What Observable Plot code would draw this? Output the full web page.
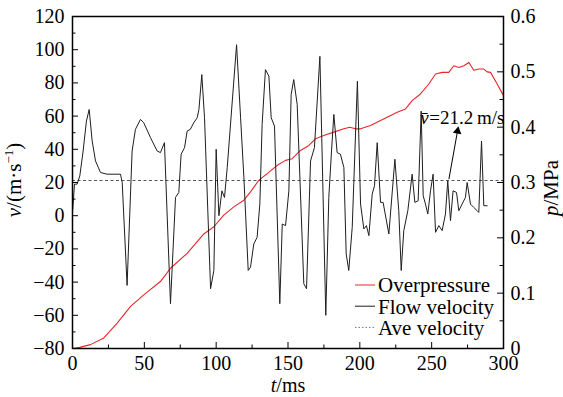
<!DOCTYPE html>
<html><head><meta charset="utf-8">
<script src="https://cdn.jsdelivr.net/npm/d3@7"></script>
<script src="https://cdn.jsdelivr.net/npm/@observablehq/plot@0.6"></script>
<style>
html,body{margin:0;padding:0;background:#fff;}
#chart{position:relative;width:563px;height:397px;overflow:hidden;}
#chart svg text{font-family:'Liberation Serif','Times New Roman',serif;}
</style></head><body><div id="chart"></div>
<script>
const timeMs = [0,1.4,3.2,5.1,7.4,9.7,11.6,13.7,16,19.5,
  24,28.8,33.4,34.6,38,41.5,43.8,47.3,49.6,54.3,
  58.9,61.2,64,68.2,71.7,74,75.6,78,79.8,82,
  84.4,86.8,88,90,91.9,96.1,98.4,100,101.9,104,
  105.8,107.7,114.2,117,119.3,122.3,123.9,126.2,128.5,130.4,
  132,134.3,136.7,138.3,140.6,144.3,146,148.3,150.6,152.2,
  154,156.4,161,162.9,165.7,168.4,172.2,176.3,178.4,180.3,
  181.9,184.2,186.5,188.9,190.5,192.3,194.7,198.3,200.5,202.8,
  204.6,206.3,208.6,210.2,212.1,214.4,216.2,220.2,224.4,227.1,
  228.8,230.6,233.4,236.4,238.3,240.6,242.7,244.1,245.7,247.3,
  249.2,251,252.7,255,257.3,259.6,261.2,263.1,264.9,267.3,
  268.9,271.2,273.5,274.7,277,279.3,281.7,282.8,284.7,286.3,
  288.6];
const flowVelocity = [2,19,19,24,39,57,64,45,33,26,
  25,25,25,20,-42,39,52,58,56,47,
  39,38,44,-53,11,14,37,41,51,52,
  56,59,64,85,59,-44,-33,40,0,15,
  11,29,103,59,23,-33,-31,-17,-13,7,
  55,88,84,59,54,-53,-5,-6,15,73,
  82,67,-41,-44,33,41,96,-60,11,39,
  61,38,37,29,-23,-33,-7,81,7,-8,
  -6,-12,13,18,44,8,8,-11,34,3,
  -33,-9,3,25,8,9,63,12,7,1,
  15,25,-10,-6,-9,1,21,-3,15,14,
  3,7,11,20,7,5,3,2,45,6,
  6];
const pressureTimeMs = [0,5,12.5,21.8,31.1,40.4,49.6,61.2,68.2,79.8,
  91.4,98.4,105.3,112.3,119.3,123.9,129.7,135.5,142.5,148.3,
  152.9,158.7,164.5,169.1,174.9,181.9,188.9,193,197,200.5,
  207.4,212,219,226,231.8,236.4,242.2,248,252.7,257.3,
  261.9,265.4,268.9,272.4,275.9,279.3,282.8,286.3,288.6,291,
  295.6,300];
const overpressureMPa = [0,0.002,0.007,0.019,0.046,0.076,0.097,0.121,0.145,0.172,
  0.207,0.220,0.241,0.256,0.268,0.283,0.304,0.316,0.331,0.340,
  0.343,0.358,0.367,0.379,0.385,0.391,0.397,0.400,0.397,0.397,
  0.403,0.409,0.418,0.427,0.433,0.448,0.460,0.478,0.496,0.499,
  0.499,0.511,0.508,0.511,0.517,0.503,0.505,0.505,0.500,0.499,
  0.478,0.457];
const aveVelocity = 21.2;
const velocityTicks = [-80,-60,-40,-20,0,20,40,60,80,100,120];
const velocityMinorTicks = [-70,-50,-30,-10,10,30,50,70,90,110];
const pressureTicks = [0,0.1,0.2,0.3,0.4,0.5,0.6];
const pressureTickLabels = ["0","0.1","0.2","0.3","0.4","0.5","0.6"];
const pressureMinorTicks = [0.05,0.15,0.25,0.35,0.45,0.55];
const timeTicks = [0,50,100,150,200,250,300];
const timeMinorTicks = [25,75,125,175,225,275];
const legendLabels = ["Overpressure","Flow velocity","Ave velocity"];
const annotationLabel = "=21.2\u2009m/s";
const annotationAt = {t: 242, v: 59};
const arrowFrom = {t: 262, v: 22};
const arrowTo = {t: 268, v: 51};

const vMin = -80, vMax = 120, pMax = 0.6;
const pToV = p => vMin + p / pMax * (vMax - vMin);

const flow = timeMs.map((t, i) => ({t, v: flowVelocity[i]}));
const pressure = pressureTimeMs.map((t, i) => ({t, v: pToV(overpressureMPa[i])}));
const pTickRows = pressureTicks.map((p, i) => ({v: pToV(p), label: pressureTickLabels[i]}));

const font = "'Liberation Serif','Times New Roman',serif";
const W = 563, H = 397, mL = 72, mR = 60, mT = 16, mB = 49;
const fw = W - mL - mR, fh = H - mT - mB;
const red = "#e8262b", ink = "#1e1e1e";

const plot = Plot.plot({
  width: W, height: H,
  marginLeft: mL, marginRight: mR, marginTop: mT, marginBottom: mB,
  style: {fontFamily: font, fontSize: "20px", background: "#fff", color: "#000", overflow: "visible"},
  x: {domain: [0, 300]},
  y: {domain: [vMin, vMax]},
  marks: [
    Plot.ruleY([aveVelocity], {stroke: "#555", strokeWidth: 1, strokeDasharray: "3,2.5"}),
    Plot.line(pressure, {x: "t", y: "v", stroke: red, strokeWidth: 1.1}),
    Plot.line(flow, {x: "t", y: "v", stroke: ink, strokeWidth: 1}),
    Plot.link([{}], {x1: () => arrowFrom.t, y1: () => arrowFrom.v, x2: () => arrowTo.t, y2: () => arrowTo.v, stroke: "#000", strokeWidth: 1}),
    Plot.dot([{}], {x: () => arrowTo.t, y: () => arrowTo.v, symbol: "triangle", r: 3.2, fill: "#000", stroke: null, rotate: 10}),
    Plot.text([annotationAt], {x: "t", y: "v", text: () => "v\u0304", fontStyle: "italic", textAnchor: "start", fontSize: 19, fontFamily: font}),
    Plot.text([annotationAt], {x: "t", y: "v", text: () => annotationLabel, dx: 9, textAnchor: "start", fontSize: 19, fontFamily: font}),
    // inward ticks
    Plot.tickY(velocityTicks, {y: d => d, insetRight: fw - 6, stroke: "#000"}),
    Plot.tickY(velocityMinorTicks, {y: d => d, insetRight: fw - 3.5, stroke: "#000"}),
    Plot.tickY(pressureTicks, {y: d => pToV(d), insetLeft: fw - 6, stroke: "#000"}),
    Plot.tickY(pressureMinorTicks, {y: d => pToV(d), insetLeft: fw - 3.5, stroke: "#000"}),
    Plot.tickX(timeTicks, {x: d => d, insetTop: fh - 6, stroke: "#000"}),
    Plot.tickX(timeMinorTicks, {x: d => d, insetTop: fh - 3.5, stroke: "#000"}),
    Plot.frame({stroke: "#000", strokeWidth: 1.5}),
    Plot.axisY(velocityTicks, {anchor: "left", tickSize: 0, tickPadding: 8, label: null, fontFamily: font}),
    Plot.axisY(pTickRows.map(d => d.v), {anchor: "right", tickSize: 0, tickPadding: 7, label: null, fontFamily: font,
      tickFormat: (v, i) => pTickRows[i].label}),
    Plot.axisX(timeTicks, {anchor: "bottom", tickSize: 0, tickPadding: 7, label: null, fontFamily: font})
  ]
});

document.getElementById("chart").appendChild(plot);
const svg = d3.select(plot);

// Axis titles
const yt = svg.append("text").attr("transform", "translate(21,180) rotate(-90)")
  .attr("text-anchor", "middle").attr("font-family", font).style("font-size", "21px").attr("fill", "#000");
yt.append("tspan").attr("font-style", "italic").text("v");
yt.append("tspan").text("/(m\u00b7s");
yt.append("tspan").attr("font-size", "13px").attr("dy", "-8").text("\u22121");
yt.append("tspan").attr("dy", "8").text(")");

const xt = svg.append("text").attr("x", 288).attr("y", 392)
  .attr("text-anchor", "middle").attr("font-family", font).style("font-size", "20px").attr("fill", "#000");
xt.append("tspan").attr("font-style", "italic").text("t");
xt.append("tspan").text("/ms");

const pt = svg.append("text").attr("transform", "translate(558,188) rotate(-90)")
  .attr("text-anchor", "middle").attr("font-family", font).style("font-size", "21px").attr("fill", "#000");
pt.append("tspan").attr("font-style", "italic").text("p");
pt.append("tspan").text("/MPa");

// Legend
const lg = svg.append("g");
const legendStyles = [
  {stroke: red, dash: null},
  {stroke: ink, dash: null},
  {stroke: "#777", dash: "1.5,2"}
];
legendLabels.forEach((lab, i) => {
  const y = 285 + i * 21.2;
  lg.append("line").attr("x1", 355).attr("x2", 375).attr("y1", y).attr("y2", y)
    .attr("stroke", legendStyles[i].stroke).attr("stroke-width", 1)
    .attr("stroke-dasharray", legendStyles[i].dash);
  lg.append("text").attr("x", 378).attr("y", y).attr("dy", "0.35em")
    .attr("text-anchor", "start").attr("font-family", font)
    .style("font-size", "21px").attr("fill", "#000").text(lab);
});
</script></body></html>
